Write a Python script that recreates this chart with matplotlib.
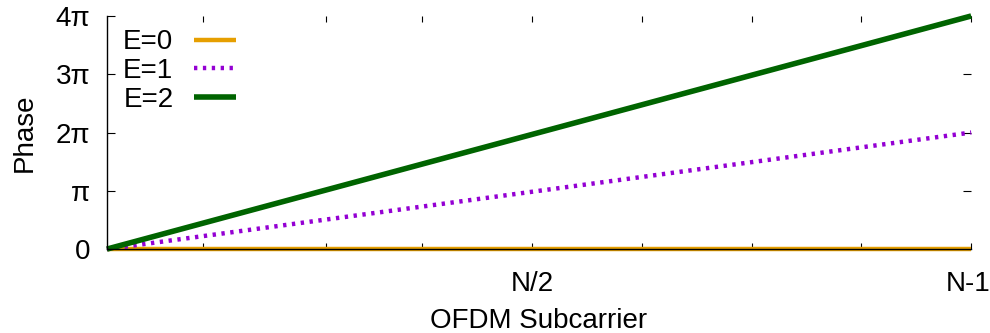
import numpy as np
import matplotlib
matplotlib.use("Agg")
import matplotlib.pyplot as plt
from matplotlib.transforms import ScaledTranslation

plt.rcParams["font.family"] = ["Liberation Sans", "DejaVu Sans"]

# subcarrier index (1..N, N = 64) and accumulated phase in units of pi
subcarrier = [1, 64]
phase_e0 = [0, 0]
phase_e1 = [0, 2]
phase_e2 = [0, 4]
series_labels = ["E=0", "E=1", "E=2"]

x_tick_pos = [8, 17, 24, 32, 40, 48, 56, 64]
x_tick_labels = ["", "", "", "N/2", "", "", "", "N-1"]
y_tick_pos = [0, 1, 2, 3, 4]
y_tick_labels = ["0", "\u03c0", "2\u03c0", "3\u03c0", "4\u03c0"]

FS = 20

fig = plt.figure(figsize=(9.9, 3.33), dpi=100)
ax = fig.add_axes([0.108, 0.252, 0.873, 0.700])

ax.plot(subcarrier, phase_e0, color="#E69F00", lw=3.2, label=series_labels[0],
        clip_on=False, solid_capstyle="butt")
ax.plot(subcarrier, phase_e1, color="#9400D3", lw=3.2, label=series_labels[1],
        clip_on=False, dashes=(0.75, 1.25), dash_capstyle="butt")
ax.plot(subcarrier, phase_e2, color="#006400", lw=4.0, label=series_labels[2],
        clip_on=False, solid_capstyle="butt")

ax.set_xlim(1, 64)
ax.set_ylim(0, 4)
ax.set_xticks(x_tick_pos)
ax.set_xticklabels(x_tick_labels, fontsize=FS)
ax.set_yticks(y_tick_pos)
ax.set_yticklabels(y_tick_labels, fontsize=FS)

ax.tick_params(axis="x", direction="in", top=True, length=4.5, width=0.8, pad=16)
ax.tick_params(axis="y", direction="in", right=True, length=5.5, width=0.8, pad=12)

# keep the last tick label inside the figure
last = ax.get_xticklabels()[-1]
last.set_transform(last.get_transform() + ScaledTranslation(-3 / 100, 0, fig.dpi_scale_trans))

ax.spines["top"].set_visible(False)
ax.spines["right"].set_visible(False)
ax.spines["left"].set_linewidth(1.0)
ax.spines["bottom"].set_linewidth(1.0)

ax.set_xlabel("OFDM Subcarrier", fontsize=FS, labelpad=8)
ax.set_ylabel("Phase", fontsize=FS, labelpad=13)

ax.legend(loc="upper left", markerfirst=False, frameon=False, fontsize=FS,
          handlelength=1.5, handletextpad=0.75, labelspacing=0.1,
          borderaxespad=0.0, bbox_to_anchor=(0.006, 0.99))

fig.savefig("out.png", dpi=100)
